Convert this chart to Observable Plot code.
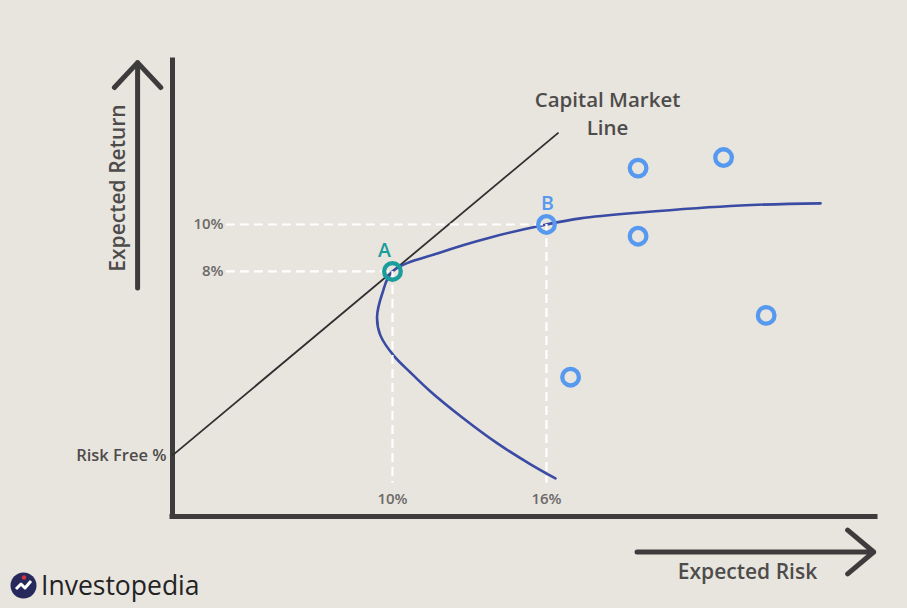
<!DOCTYPE html>
<html>
<head>
<meta charset="utf-8">
<script src="https://cdn.jsdelivr.net/npm/d3@7"></script>
<script src="https://cdn.jsdelivr.net/npm/@observablehq/plot@0.6"></script>
<style>
  html, body { margin: 0; padding: 0; background: #e8e4de; }
  body { width: 907px; height: 608px; position: relative; overflow: hidden; font-family: "Open Sans", sans-serif; }
  #chart { position: absolute; left: 0; top: 0; }
  #logo { position: absolute; left: 10px; top: 572px; display: flex; align-items: center; gap: 4px; }
  #logo span { font-family: "Open Sans", sans-serif; font-size: 26.5px; color: #232323; line-height: 27px; }
</style>
</head>
<body>
<div id="chart"></div>
<div id="logo">
  <svg width="27" height="27" viewBox="0 0 27 27">
    <circle cx="13.5" cy="13.5" r="13" fill="#27295c"/>
    <path d="M6 17 L11 12 L15 16 L21 9" stroke="#ffffff" stroke-width="3" fill="none" stroke-linejoin="round"/>
    <circle cx="14" cy="5.5" r="2.2" fill="#d8323c"/>
  </svg>
  <span>Investopedia</span>
</div>
<script>
// ---- data (risk %, return %) ----
const frontierRisk   = [16.35, 15.38, 14.09, 12.77, 11.48, 10.70, 10.04, 9.53, 9.40, 9.60, 10.0, 11.87, 13.82, 16.0, 17.32, 19.66, 23.56, 26.68];
const frontierReturn = [-0.81, -0.21, 0.68, 1.74, 2.89, 3.70, 4.43, 5.28, 6.06, 7.05, 8.0, 8.81, 9.45, 10.0, 10.26, 10.51, 10.81, 10.90];

const portfolioRisk   = [19.57, 22.90, 19.57, 24.56, 16.94];
const portfolioReturn = [12.40, 12.85, 9.50, 6.13, 3.50];

const keyNames  = ["A", "B"];
const keyRisk   = [10, 16];
const keyReturn = [8, 10];

const riskFreeRate = 0.17;
const cmlEndRisk = 16.47;

const xTickValues = [10, 16];
const xTickLabels = ["10%", "16%"];
const yTickValues = [8, 10];
const yTickLabels = ["8%", "10%"];

// ---- scale extents ----
const xMin = 1.43, xMax = 28.82;
const yMin = -2.43, yMax = 16.98;
const guideStart = 3.53, guideEnd = -1.02;

const cmlSlope = (keyReturn[0] - riskFreeRate) / (keyRisk[0] - xMin);
const frontier = frontierRisk.map((r, i) => ({risk: r, ret: frontierReturn[i]}));
const portfolios = portfolioRisk.map((r, i) => ({risk: r, ret: portfolioReturn[i]}));
const keys = keyNames.map((n, i) => ({name: n, risk: keyRisk[i], ret: keyReturn[i]}));
const cml = [{x1: xMin, y1: riskFreeRate, x2: cmlEndRisk, y2: riskFreeRate + cmlSlope * (cmlEndRisk - xMin)}];

const ink = "#3d3b3c";
const textInk = "#4d4c4b";
const blue = "#5699ef";
const teal = "#1a9d9b";
const font = "Open Sans";

const chart = Plot.plot({
  width: 907,
  height: 608,
  marginLeft: 172,
  marginRight: 32,
  marginTop: 60,
  marginBottom: 92,
  x: {domain: [xMin, xMax], axis: null},
  y: {domain: [yMin, yMax], axis: null},
  style: {background: "transparent", overflow: "visible", fontFamily: font},
  marks: [
    // axes lines
    Plot.ruleX([xMin], {stroke: ink, strokeWidth: 5, strokeLinecap: "square"}),
    Plot.ruleY([yMin], {stroke: ink, strokeWidth: 5, strokeLinecap: "square"}),
    // axis arrows
    Plot.arrow([{x1: 0.07, y1: 7.3, x2: 0.07, y2: 16.89}], {x1: "x1", y1: "y1", x2: "x2", y2: "y2", stroke: ink, strokeWidth: 5, headAngle: 86, headLength: 10.2}),
    Plot.arrow([{x1: 19.53, y1: -3.94, x2: 28.75, y2: -3.94}], {x1: "x1", y1: "y1", x2: "x2", y2: "y2", stroke: ink, strokeWidth: 5, headAngle: 80, headLength: 10.2}),
    // capital market line
    Plot.link(cml, {x1: "x1", y1: "y1", x2: "x2", y2: "y2", stroke: "#2f2f2f", strokeWidth: 1.8}),
    // efficient frontier
    Plot.line(frontier, {x: "risk", y: "ret", curve: "catmull-rom", stroke: "#3a4ba4", strokeWidth: 2.6}),
    // dashed guides
    Plot.ruleY(keys, {y: "ret", x1: guideStart, x2: "risk", stroke: "#ffffff", strokeWidth: 2.2, strokeDasharray: "9,5"}),
    Plot.ruleX(keys, {x: "risk", y1: "ret", y2: guideEnd, stroke: "#ffffff", strokeWidth: 2.2, strokeDasharray: "9,5"}),
    // portfolios
    Plot.dot(portfolios, {x: "risk", y: "ret", r: 8.3, stroke: blue, strokeWidth: 4.3, fill: "none"}),
    Plot.dot(keys.filter(d => d.name === "A"), {x: "risk", y: "ret", r: 8.3, stroke: teal, strokeWidth: 4.3, fill: "none"}),
    Plot.dot(keys.filter(d => d.name === "B"), {x: "risk", y: "ret", r: 8.3, stroke: blue, strokeWidth: 4.3, fill: "none"}),
    Plot.text(keys.filter(d => d.name === "A"), {x: "risk", y: "ret", text: "name", dy: -21, dx: -8, fill: teal, fontSize: 19.5, fontWeight: 600, fontFamily: font}),
    Plot.text(keys.filter(d => d.name === "B"), {x: "risk", y: "ret", text: "name", dy: -21, dx: 1, fill: blue, fontSize: 19.5, fontWeight: 600, fontFamily: font}),
    // tick labels
    Plot.text(yTickValues, {y: d => d, text: (d, i) => yTickLabels[i], frameAnchor: "left", textAnchor: "end", lineAnchor: "middle", dx: 51, fill: "#6b6a69", fontSize: 15, fontWeight: 600, fontFamily: font}),
    Plot.text(xTickValues, {x: d => d, text: (d, i) => xTickLabels[i], frameAnchor: "bottom", textAnchor: "middle", lineAnchor: "middle", dy: -17.5, fill: "#6b6a69", fontSize: 15, fontWeight: 600, fontFamily: font}),
    Plot.text([riskFreeRate], {y: d => d, text: ["Risk Free %"], frameAnchor: "left", textAnchor: "end", lineAnchor: "middle", dx: -6, fill: textInk, fontSize: 16.5, fontWeight: 600, fontFamily: font}),
    // labels
    Plot.text(cml, {x: "x2", y: "y2", text: ["Capital Market\nLine"], textAnchor: "middle", lineAnchor: "middle", dx: 49, dy: -21, lineHeight: 1.38, fill: textInk, fontSize: 20.5, fontWeight: 600, fontFamily: font}),
    Plot.text(["Expected Return"], {frameAnchor: "top-left", textAnchor: "middle", lineAnchor: "middle", dx: -54, dy: 127.5, rotate: -90, fill: textInk, fontSize: 21, fontWeight: 600, fontFamily: font}),
    Plot.text(["Expected Risk"], {frameAnchor: "bottom-right", textAnchor: "middle", lineAnchor: "middle", dx: -128, dy: 56, fill: textInk, fontSize: 21, fontWeight: 600, fontFamily: font})
  ]
});
document.getElementById("chart").appendChild(chart);
</script>
</body>
</html>
